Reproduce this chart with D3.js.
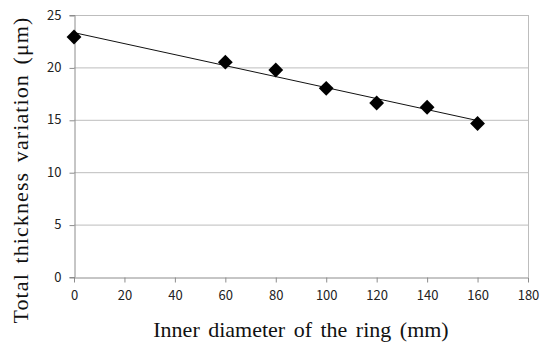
<!DOCTYPE html>
<html>
<head>
<meta charset="utf-8">
<script src="https://cdn.jsdelivr.net/npm/d3@7"></script>
<style>
  body { margin: 0; background: #fff; }
  .tick text { font-family: "Noto Sans CJK KR", "Noto Sans", sans-serif; font-size: 13px; fill: #222; }
  .title { font-family: "Liberation Serif", "Times New Roman", serif; font-size: 22px; fill: #111; word-spacing: 3px; }
</style>
</head>
<body>
<figure id="chart" style="margin:0"></figure>
<script>
// data
const diameters = [0, 60, 80, 100, 120, 140, 160];
const ttv = [22.9, 20.5, 19.75, 18.0, 16.6, 16.2, 14.65];
const xTicks = [0, 20, 40, 60, 80, 100, 120, 140, 160, 180];
const yTicks = [0, 5, 10, 15, 20, 25];

const width = 541, height = 346;
const margin = { top: 15, right: 13, bottom: 69, left: 74 };
const w = width - margin.left - margin.right;
const h = height - margin.top - margin.bottom;

const svg = d3.select("figure#chart")
  .append("svg")
  .attr("width", width)
  .attr("height", height);

const g = svg.append("g")
  .attr("transform", "translate(" + margin.left + "," + margin.top + ")");

const x = d3.scaleLinear().domain([0, 180]).range([0, w]);
const y = d3.scaleLinear().domain([0, 25]).range([h, 0]);

// horizontal gridlines
g.append("g")
  .selectAll("line")
  .data(yTicks.filter(d => d > 0))
  .enter()
  .append("line")
  .attr("x1", 0)
  .attr("x2", w)
  .attr("y1", d => y(d) + 0.5)
  .attr("y2", d => y(d) + 0.5)
  .attr("stroke", "#bdbdbd")
  .attr("stroke-width", 1);

// right border of plot area
g.append("line")
  .attr("x1", w + 0.5).attr("x2", w + 0.5)
  .attr("y1", 0).attr("y2", h)
  .attr("stroke", "#bdbdbd");

// y axis
const yAxis = g.append("g")
  .attr("transform", "translate(0.5,0)")
  .call(d3.axisLeft(y).tickValues(yTicks).tickSize(5).tickPadding(8));
yAxis.select(".domain").attr("stroke", "#8c8c8c");
yAxis.selectAll(".tick line").attr("stroke", "#8c8c8c").attr("transform", "translate(0,0.5)");

// x axis
const xAxis = g.append("g")
  .attr("transform", "translate(0," + (h + 0.5) + ")")
  .call(d3.axisBottom(x).tickValues(xTicks).tickSize(5).tickPadding(8).tickSizeOuter(0));
xAxis.select(".domain").attr("stroke", "#8c8c8c");
xAxis.selectAll(".tick line").attr("stroke", "#8c8c8c");

// linear trend line from the data
const mx = d3.mean(diameters), my = d3.mean(ttv);
const slope = d3.sum(diameters.map((d, i) => (d - mx) * (ttv[i] - my))) /
  d3.sum(diameters.map(d => (d - mx) * (d - mx)));
const icpt = my - slope * mx;
const xMin = d3.min(diameters), xMax = d3.max(diameters);
g.append("line")
  .attr("x1", x(xMin)).attr("y1", y(icpt + slope * xMin))
  .attr("x2", x(xMax)).attr("y2", y(icpt + slope * xMax))
  .attr("stroke", "#111")
  .attr("stroke-width", 1);

// diamond markers
const diamond = d3.symbol().type(d3.symbolDiamond2).size(140);
g.selectAll("path.pt")
  .data(diameters.map((d, i) => ({ d: d, v: ttv[i] })))
  .enter()
  .append("path")
  .attr("class", "pt")
  .attr("d", diamond)
  .attr("transform", p => "translate(" + x(p.d) + "," + y(p.v) + ")")
  .attr("fill", "#000");

// axis titles
svg.append("text")
  .attr("class", "title")
  .attr("x", 301)
  .attr("y", 337)
  .attr("text-anchor", "middle")
  .text("Inner diameter of the ring (mm)");

svg.append("text")
  .attr("class", "title")
  .attr("transform", "translate(28,170) rotate(-90)")
  .attr("text-anchor", "middle")
  .style("letter-spacing", "1.1px")
  .text("Total thickness variation (μm)");
</script>
</body>
</html>
